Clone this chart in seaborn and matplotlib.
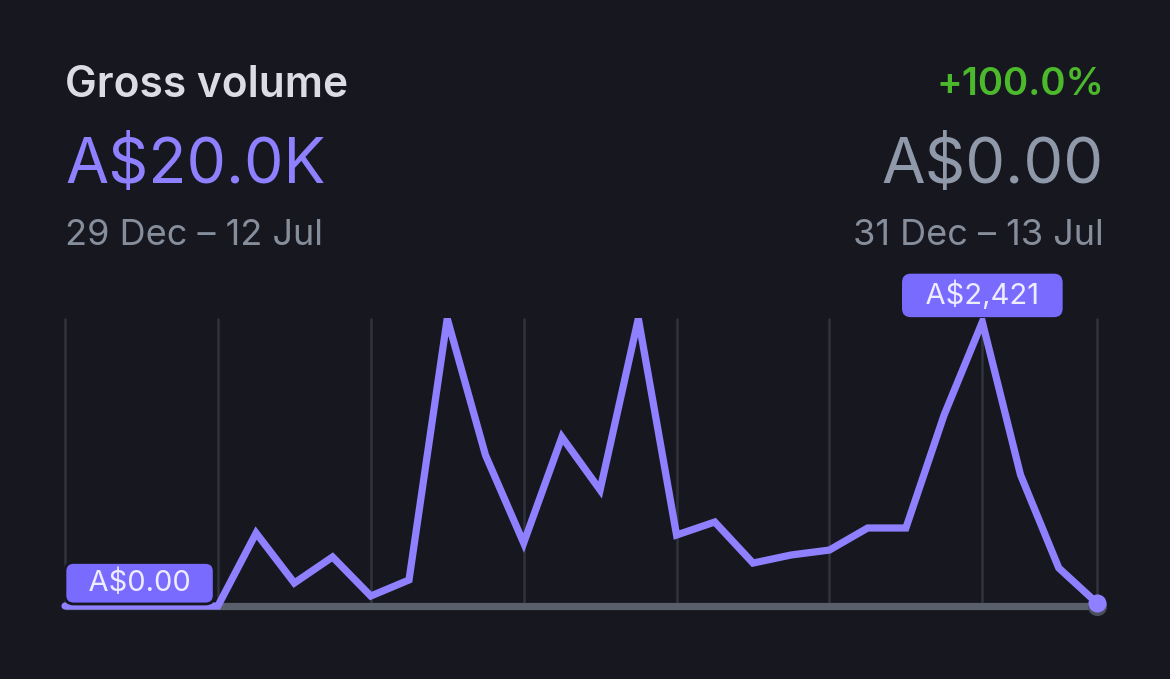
import matplotlib
matplotlib.use("Agg")
import matplotlib.pyplot as plt
import seaborn as sns
import pandas as pd

# weekly gross volume, 29 Dec - 12 Jul (A$)
week_idx = list(range(28))
current = [0, 0, 0, 0, 0, 622, 196, 418, 85, 222, 2450, 1287, 537, 1440,
           989, 2450, 605, 716, 366, 435, 477, 665, 665, 1628, 2421, 1117, 324, 25]
# comparison period, 31 Dec - 13 Jul
previous = [0, 0, 0, 0, 0, 0, 0, 0, 0, 0, 0, 0, 0, 0,
            0, 0, 0, 0, 0, 0, 0, 0, 0, 0, 0, 0, 0, 0]
grid_weeks = [0, 4, 8, 12, 16, 20, 24, 27]

title = "Gross volume"
total_now = "A$20.0K"
total_prev = "A$0.00"
change = "+100.0%"
range_now = "29 Dec – 12 Jul"
range_prev = "31 Dec – 13 Jul"
peak_label = "A$2,421"
start_label = "A$0.00"

BG = "#16171f"
PURPLE = "#8f80ff"
BOX = "#7a6bff"
YTOP = 2455

sns.set_theme(style="dark")
plt.rcParams["font.family"] = ["Inter", "DejaVu Sans"]

df = pd.DataFrame({"week": week_idx, "current": current, "previous": previous})

W, H = 1170, 679
fig = plt.figure(figsize=(W / 100, H / 100), dpi=100, facecolor=BG)
# plot area runs a little below the zero line so the thick baseline is not cut
ax = fig.add_axes([60 / W, 1 - 616 / H, (1105 - 60) / W, (616 - 318) / H])
ax.set_facecolor(BG)

ax.vlines(grid_weeks, 0, YTOP, color="#30333c", lw=1.8, zorder=1)

sns.lineplot(data=df, x="week", y="previous", ax=ax, color="#59606b", lw=5.2,
             solid_capstyle="butt", zorder=2)
sns.lineplot(data=df, x="week", y="current", ax=ax, color=PURPLE, lw=5.2,
             solid_capstyle="round", solid_joinstyle="miter", zorder=3)

# end markers
ax.scatter([week_idx[-1]], [previous[-1]], s=190, color="#4a505a", zorder=4,
           clip_on=False, linewidths=0)
ax.scatter([week_idx[-1]], [current[-1]], s=170, color=PURPLE, zorder=5,
           clip_on=False, linewidths=0)

# x: 0 -> 65 px, 27 -> 1097 px
xscale = (1097 - 65) / 27
ax.set_xlim(-(65 - 60) / xscale, 27 + (1105 - 1097) / xscale)
ax.set_ylim(-YTOP * 10 / 288, YTOP)
ax.set_xticks([])
ax.set_yticks([])
ax.grid(False)
for s in ax.spines.values():
    s.set_visible(False)
ax.set_xlabel("")
ax.set_ylabel("")

# tooltips
peak_i = 24
ax.annotate("  " + peak_label + "  ", xy=(peak_i, current[peak_i]), xytext=(0, 8.5),
            textcoords="offset points", ha="center", va="bottom",
            fontsize=21, color="#eeecff", zorder=6, annotation_clip=False,
            bbox=dict(boxstyle="round,pad=0.24,rounding_size=0.3", fc=BOX, ec="none"))
ax.annotate("  " + start_label + "  ", xy=(0, 0), xytext=(5, 6.5), textcoords="offset points",
            ha="left", va="bottom", fontsize=21, color="#eeecff", zorder=6,
            annotation_clip=False,
            bbox=dict(boxstyle="round,pad=0.24,rounding_size=0.3", fc=BOX, ec=BG, lw=2))

# header text
def px(x, y):
    return x / W, 1 - y / H

fig.text(*px(65, 97), title, fontsize=30.5, color="#dcdde4", ha="left", va="baseline",
         fontweight="semibold")
fig.text(*px(65, 183), total_now, fontsize=45, color=PURPLE, ha="left", va="baseline")
fig.text(*px(65, 245), range_now, fontsize=26, color="#878e9b", ha="left", va="baseline")
fig.text(*px(1104, 95), change, fontsize=27.5, color="#4cb82c", ha="right", va="baseline",
         fontweight="semibold")
fig.text(*px(1104, 183), total_prev, fontsize=45.5, color="#8f99aa", ha="right", va="baseline")
fig.text(*px(1104, 245), range_prev, fontsize=26, color="#878e9b", ha="right", va="baseline")

fig.savefig("out.png", dpi=100, facecolor=BG)
